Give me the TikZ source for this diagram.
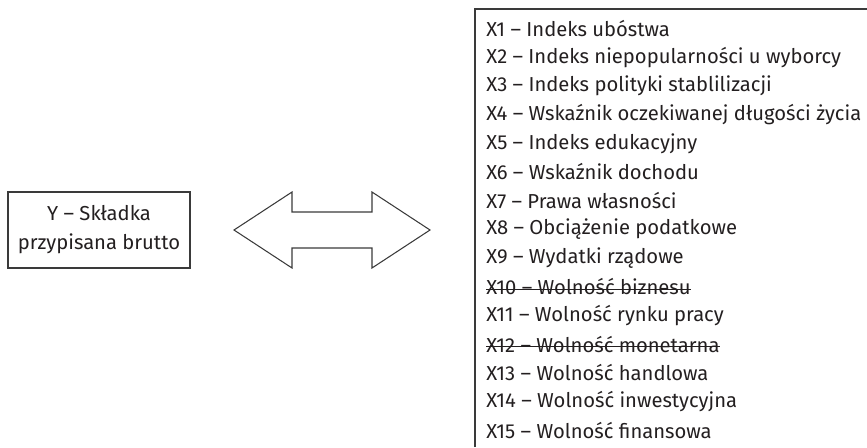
\documentclass[tikz,border=0pt]{standalone}
\usepackage{fontspec}
\setmainfont{Fira Sans}
\usepackage{tikz}
\definecolor{nero}{HTML}{231F20}
\definecolor{grigio}{HTML}{3A3A3A}
\tikzset{
  voce/.style={anchor=west, inner sep=0pt, text=nero, font=\fontsize{11.5}{13}\selectfont},
  riquadro/.style={draw=grigio, line width=0.6pt, text=nero, align=center,
    minimum width=3.64cm, minimum height=1.52cm, font=\fontsize{11.5}{16.5}\selectfont},
  barrato/.style={draw=nero, line width=0.55pt}
}
\begin{document}
\begin{tikzpicture}
        \useasboundingbox (0,0) rectangle (17.34,-8.94);
        % Variabile dipendente
        \node[riquadro] (y) at (1.98,-4.6) {Y -- Składka\\przypisana brutto};
        % Freccia doppia
        \draw[line width=0.6pt, color=grigio] (4.68,-4.6) -- (5.84,-3.84) -- (5.84,-4.24) -- (7.44,-4.24)
            -- (7.44,-3.84) -- (8.6,-4.6) -- (7.44,-5.36) -- (7.44,-4.96) -- (5.84,-4.96) -- (5.84,-5.36) -- cycle;
        % Elenco delle variabili
        \draw[line width=0.6pt, color=grigio] (9.5,-8.94) -- (9.5,-0.18) -- (17.34,-0.18);
        \foreach \i/\t in {1/{X1 -- Indeks ubóstwa},
                           2/{X2 -- Indeks niepopularności u wyborcy},
                           3/{X3 -- Indeks polityki stablilizacji},
                           4/{X4 -- Wskaźnik oczekiwanej długości życia},
                           5/{X5 -- Indeks edukacyjny},
                           6/{X6 -- Wskaźnik dochodu},
                           7/{X7 -- Prawa własności},
                           8/{X8 -- Obciążenie podatkowe},
                           9/{X9 -- Wydatki rządowe},
                           10/{X10 -- Wolność biznesu},
                           11/{X11 -- Wolność rynku pracy},
                           12/{X12 -- Wolność monetarna},
                           13/{X13 -- Wolność handlowa},
                           14/{X14 -- Wolność inwestycyjna},
                           15/{X15 -- Wolność finansowa}}
            \node[voce] (x\i) at (9.72,{-0.57-0.574*(\i-1)}) {\t};
        % Voci cancellate
        \foreach \i in {10,12}
            \draw[barrato] ([yshift=3pt]x\i.base west) -- ([yshift=3pt]x\i.base east);
    \end{tikzpicture}
\end{document}
